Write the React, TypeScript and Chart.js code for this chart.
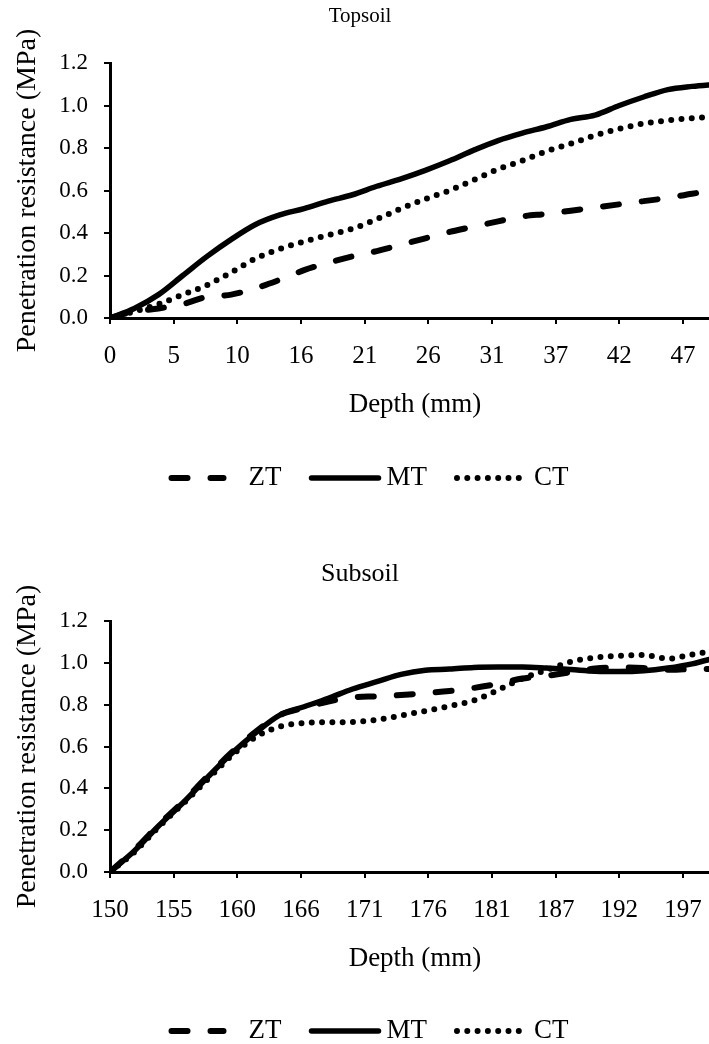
import React, { useEffect, useRef } from 'react';
import { Chart, registerables } from 'chart.js';

Chart.register(...registerables);

const FONT = "'Liberation Serif', 'Times New Roman', serif";

const seriesLabels = ['ZT', 'MT', 'CT'];

// Topsoil (depth in mm, resistance in MPa)
const topDepth = [0, 2, 4, 6, 8, 10, 12, 14, 16, 18, 20, 22, 24, 26, 28, 30, 32, 34, 36, 38, 40, 42, 44, 46, 48, 50];
const topZT = [0, 0.03, 0.045, 0.065, 0.1, 0.11, 0.14, 0.18, 0.225, 0.26, 0.29, 0.315, 0.345, 0.375, 0.405, 0.43, 0.455, 0.478, 0.49, 0.505, 0.52, 0.535, 0.55, 0.565, 0.585, 0.6];
const topMT = [0, 0.045, 0.11, 0.2, 0.29, 0.37, 0.44, 0.485, 0.515, 0.55, 0.58, 0.62, 0.655, 0.695, 0.74, 0.79, 0.835, 0.87, 0.9, 0.935, 0.955, 1.0, 1.04, 1.075, 1.09, 1.1];
const topCT = [0, 0.03, 0.065, 0.11, 0.155, 0.215, 0.28, 0.325, 0.36, 0.39, 0.42, 0.465, 0.515, 0.56, 0.6, 0.65, 0.7, 0.74, 0.785, 0.82, 0.86, 0.89, 0.915, 0.93, 0.94, 0.95];
const topTickLabels = ['0', '5', '10', '16', '21', '26', '31', '37', '42', '47'];

// Subsoil
const subDepth = [150, 152, 154, 156, 158, 160, 162, 164, 166, 168, 170, 172, 174, 176, 178, 180, 182, 184, 186, 188, 190, 192, 194, 196, 198, 200];
const subZT = [0, 0.105, 0.225, 0.335, 0.455, 0.57, 0.67, 0.75, 0.785, 0.815, 0.835, 0.84, 0.846, 0.855, 0.865, 0.88, 0.9, 0.925, 0.938, 0.955, 0.973, 0.978, 0.975, 0.967, 0.97, 0.97];
const subMT = [0, 0.1, 0.22, 0.33, 0.45, 0.565, 0.665, 0.75, 0.79, 0.83, 0.875, 0.91, 0.945, 0.965, 0.97, 0.978, 0.98, 0.98, 0.975, 0.968, 0.96, 0.958, 0.962, 0.975, 0.995, 1.025];
const subCT = [0, 0.095, 0.215, 0.325, 0.44, 0.555, 0.645, 0.695, 0.712, 0.716, 0.717, 0.728, 0.748, 0.77, 0.793, 0.82, 0.87, 0.925, 0.965, 1.005, 1.025, 1.033, 1.037, 1.02, 1.04, 1.06];
const subTickLabels = ['150', '155', '160', '166', '171', '176', '181', '187', '192', '197'];

const tickStep = 5.25;

const lineStyles = [
  { borderWidth: 6, borderDash: [16, 23], borderCapStyle: 'round' },
  { borderWidth: 5.5, borderDash: [], borderCapStyle: 'round' },
  { borderWidth: 6, borderDash: [0, 10.3], borderCapStyle: 'round' },
];

// legend layout (sample length, gap sample->text), gap between items
const legendSample = [52, 67, 62];
const legendTextGap = [25, 8, 15];
const legendItemGap = 30;
const LEGEND_FONT = 27;

const customLegend = {
  id: 'customLegend',
  afterDraw(chart: any, _args: any, opts: any) {
    const { ctx } = chart;
    const y = chart.chartArea.bottom + opts.offset;
    ctx.save();
    ctx.font = `${LEGEND_FONT}px ${FONT}`;
    const items = chart.data.datasets.map((ds: any, i: number) => ({
      ds,
      tw: ctx.measureText(ds.label).width,
      sw: legendSample[i],
      gap: legendTextGap[i],
    }));
    const total =
      items.reduce((a: number, it: any) => a + it.sw + it.gap + it.tw, 0) + legendItemGap * (items.length - 1);
    let x = chart.width / 2 - total / 2;
    items.forEach((it: any) => {
      ctx.strokeStyle = '#000';
      ctx.lineWidth = it.ds.borderWidth;
      ctx.setLineDash(it.ds.borderDash || []);
      ctx.lineCap = it.ds.borderCapStyle || 'butt';
      ctx.beginPath();
      ctx.moveTo(x, y);
      ctx.lineTo(x + it.sw, y);
      ctx.stroke();
      x += it.sw + it.gap;
      ctx.setLineDash([]);
      ctx.fillStyle = '#000';
      ctx.textBaseline = 'middle';
      ctx.textAlign = 'left';
      ctx.fillText(it.ds.label, x, y);
      x += it.tw + legendItemGap;
    });
    ctx.restore();
  },
};

type PanelProps = {
  title: string;
  titleSize: number;
  titlePadTop: number;
  titlePadBottom: number;
  depth: number[];
  series: number[][];
  tickLabels: string[];
  xMin: number;
  xMax: number;
  height: number;
  padBottom: number;
  legendOffset: number;
  top: number;
};

function Panel(p: PanelProps) {
  const ref = useRef<HTMLCanvasElement | null>(null);
  useEffect(() => {
    if (!ref.current) return;
    const tickValues = p.tickLabels.map((_, i) => p.xMin + i * tickStep);
    const chart = new Chart(ref.current, {
      type: 'line',
      plugins: [customLegend],
      data: {
        datasets: p.series.map((vals, si) => ({
          label: seriesLabels[si],
          data: p.depth.map((d, i) => ({ x: d, y: vals[i] })),
          borderColor: '#000',
          backgroundColor: '#000',
          pointRadius: 0,
          cubicInterpolationMode: 'monotone',
          fill: false,
          ...(lineStyles[si] as any),
        })),
      },
      options: {
        animation: false,
        responsive: false,
        devicePixelRatio: 1,
        layout: { padding: { left: 0, right: 20, top: 0, bottom: p.padBottom } },
        plugins: {
          title: {
            display: true,
            text: p.title,
            color: '#000',
            font: { family: FONT, size: p.titleSize, weight: 'normal' },
            padding: { top: p.titlePadTop, bottom: p.titlePadBottom },
          },
          legend: { display: false },
          tooltip: { enabled: false },
          customLegend: { offset: p.legendOffset },
        },
        scales: {
          x: {
            type: 'linear',
            min: p.xMin,
            max: p.xMax,
            afterBuildTicks: (axis: any) => {
              axis.ticks = tickValues.map((v) => ({ value: v }));
            },
            afterFit: (s: any) => {
              s.height = 140;
            },
            ticks: {
              autoSkip: false,
              maxRotation: 0,
              padding: 17.5,
              color: '#000',
              font: { family: FONT, size: 25 },
              callback: (_v: any, i: number) => p.tickLabels[i],
            },
            grid: { drawOnChartArea: false, drawTicks: true, tickLength: 6, color: '#000', lineWidth: 2 },
            border: { display: true, color: '#000', width: 3 },
            title: {
              display: true,
              text: 'Depth (mm)',
              color: '#000',
              font: { family: FONT, size: 27 },
              padding: { top: 0, bottom: 36.8 },
            },
          },
          y: {
            min: 0,
            max: 1.2,
            afterFit: (s: any) => {
              s.width = 110;
            },
            ticks: {
              stepSize: 0.2,
              padding: 16,
              color: '#000',
              font: { family: FONT, size: 23 },
              callback: (v: any) => Number(v).toFixed(1),
            },
            grid: { drawOnChartArea: false, drawTicks: true, tickLength: 6, color: '#000', lineWidth: 2 },
            border: { display: true, color: '#000', width: 3 },
            title: {
              display: true,
              text: 'Penetration resistance (MPa)',
              color: '#000',
              font: { family: FONT, size: 28 },
              padding: { top: 11, bottom: 0 },
            },
          },
        },
      } as any,
    });
    return () => chart.destroy();
  }, []);
  return (
    <canvas
      ref={ref}
      width={740}
      height={p.height}
      style={{ position: 'absolute', left: 0, top: p.top, width: 740, height: p.height }}
    />
  );
}

export default function App() {
  return (
    <div style={{ position: 'absolute', left: 0, top: 0, width: 709, height: 1044, overflow: 'hidden', background: '#fff' }}>
      <Panel
        title="Topsoil"
        titleSize={21}
        titlePadTop={3.4}
        titlePadBottom={34.4}
        depth={topDepth}
        series={[topZT, topMT, topCT]}
        tickLabels={topTickLabels}
        xMin={0}
        xMax={50.3}
        height={520}
        padBottom={62}
        legendOffset={160}
        top={0}
      />
      <Panel
        title="Subsoil"
        titleSize={26}
        titlePadTop={38.4}
        titlePadBottom={31.4}
        depth={subDepth}
        series={[subZT, subMT, subCT]}
        tickLabels={subTickLabels}
        xMin={150}
        xMax={200.3}
        height={524}
        padBottom={32}
        legendOffset={159}
        top={520}
      />
    </div>
  );
}
